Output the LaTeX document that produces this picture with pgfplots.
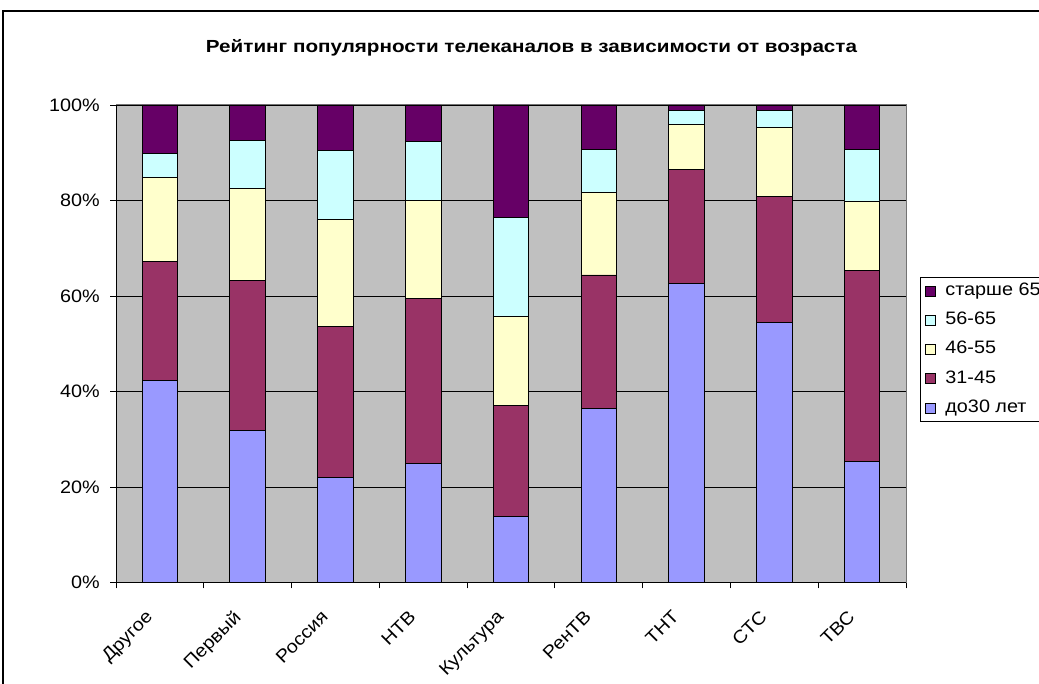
\documentclass[border=0pt]{standalone}
\usepackage{fontspec}
\setmainfont{Liberation Sans}
\newfontfamily\lblfont[FakeStretch=1.1]{Liberation Sans}
\newfontfamily\ttlfont[FakeStretch=1.18]{Liberation Sans}
\usepackage{pgfplots}
\pgfplotsset{compat=1.18}
\definecolor{bgc}{HTML}{C0C0C0}
\definecolor{cA}{HTML}{9999FF}
\definecolor{cB}{HTML}{993366}
\definecolor{cC}{HTML}{FFFFCC}
\definecolor{cD}{HTML}{CCFFFF}
\definecolor{cE}{HTML}{660066}
\begin{document}
\begin{tikzpicture}
\path[use as bounding box] (0,0) rectangle (1039pt,684pt);
\clip (0,0) rectangle (1039pt,684pt);
\fill[white] (0,0) rectangle (1039pt,684pt);
\draw[black, line width=2pt] (3pt,-5pt) -- (3pt,673pt) -- (1050pt,673pt);
\node[font=\ttlfont\fontsize{17.5}{20}\selectfont\bfseries] at (531.5pt,636pt) {Рейтинг популярности телеканалов в зависимости от возраста};
\begin{axis}[
  at={(116pt,101.5pt)}, anchor=south west,
  width=790pt, height=477.5pt, scale only axis,
  xmin=-0.5, xmax=8.5, ymin=0, ymax=100,
  ybar stacked, bar width=0.405,
  axis background/.style={fill=bgc},
  axis line style={draw=gray!90!black, line width=1pt},
  ymajorgrids, grid style={black, line width=0.9pt},
  xtick pos=bottom, ytick pos=left,
  xtick={0,...,8},
  xticklabels={Другое,Первый,Россия,НТВ,Культура,РенТВ,ТНТ,СТС,ТВС},
  minor xtick={-0.5,0.5,...,8.5},
  major x tick style={draw=none},
  minor x tick style={black, line width=0.9pt},
  ytick={0,20,40,60,80,100},
  yticklabels={0\%,20\%,40\%,60\%,80\%,100\%},
  ytick style={black, line width=0.9pt},
  tick align=outside, major tick length=6pt, minor tick length=6pt,
  tick label style={font=\lblfont\fontsize{18}{21}\selectfont},
  x tick label style={rotate=45, anchor=north east, inner sep=0pt, xshift=-25.4pt, yshift=-3.8pt},
  y tick label style={inner sep=0pt, xshift=-10pt},
  reverse legend,
  legend cell align=left,
  legend style={at={(1.0177,0.6398)}, anchor=north west, draw=black, line width=0.9pt,
    font=\lblfont\fontsize{18}{21}\selectfont, row sep=8.25pt, inner sep=3pt,
    nodes={text height=13pt, text depth=4pt, inner ysep=2pt, inner xsep=2pt}},
  legend image code/.code={\path[draw=none,fill=none] (0pt,0pt) rectangle (20pt,0.1pt);\draw[#1,draw=black,line width=0.7pt] (2pt,-5pt) rectangle (12pt,5pt);},
]
\addplot[fill=cA, draw=black, line width=0.9pt] coordinates {(0,42.3) (1,31.9) (2,22.0) (3,24.9) (4,13.8) (5,36.5) (6,62.7) (7,54.4) (8,25.4)};
\addplot[fill=cB, draw=black, line width=0.9pt] coordinates {(0,24.9) (1,31.3) (2,31.7) (3,34.6) (4,23.3) (5,27.9) (6,23.8) (7,26.5) (8,39.9)};
\addplot[fill=cC, draw=black, line width=0.9pt] coordinates {(0,17.6) (1,19.3) (2,22.4) (3,20.6) (4,18.6) (5,17.3) (6,9.4) (7,14.3) (8,14.6)};
\addplot[fill=cD, draw=black, line width=0.9pt] coordinates {(0,5.1) (1,10.0) (2,14.3) (3,12.2) (4,20.8) (5,9.0) (6,2.9) (7,3.6) (8,10.8)};
\addplot[fill=cE, draw=black, line width=0.9pt] coordinates {(0,10.1) (1,7.5) (2,9.6) (3,7.7) (4,23.5) (5,9.3) (6,1.2) (7,1.2) (8,9.3)};
\legend{до30 лет,31-45,46-55,56-65,старше 65}
\draw[black, line width=1pt] (axis cs:-0.5,0) -- (axis cs:8.5,0);
\draw[black, line width=1pt] (axis cs:-0.5,0) -- (axis cs:-0.5,100);
\end{axis}
\end{tikzpicture}
\end{document}
